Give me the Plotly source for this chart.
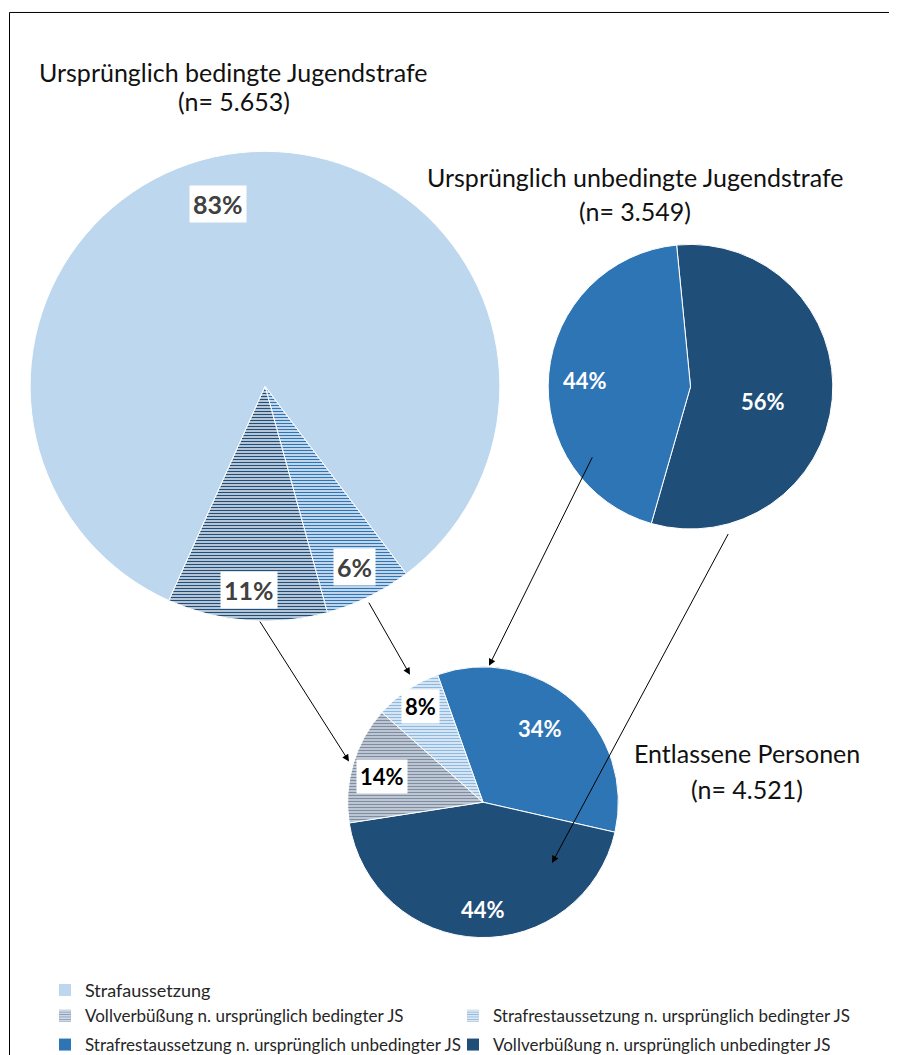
import math
import plotly.graph_objects as go

W, H = 897, 1055
OFF = 8  # page body margin, so pixel positions below are screen positions

# ---- data ----
big_labels = ['Strafrestaussetzung n. ursprünglich bedingter JS',
              'Vollverbüßung n. ursprünglich bedingter JS',
              'Strafaussetzung']
big_values = [6, 11, 83]

small_labels = ['Vollverbüßung n. ursprünglich unbedingter JS',
                'Strafrestaussetzung n. ursprünglich unbedingter JS']
small_values = [56, 44]

out_labels = ['Strafrestaussetzung n. ursprünglich unbedingter JS',
              'Vollverbüßung n. ursprünglich unbedingter JS',
              'Vollverbüßung n. ursprünglich bedingter JS',
              'Strafrestaussetzung n. ursprünglich bedingter JS']
out_values = [34, 44, 14, 8]

title_big = ['Ursprünglich bedingte Jugendstrafe', '(n= 5.653)']
title_small = ['Ursprünglich unbedingte Jugendstrafe', '(n= 3.549)']
title_out = ['Entlassene Personen', '(n= 4.521)']

legend_rows = [
    ['Strafaussetzung'],
    ['Vollverbüßung n. ursprünglich bedingter JS',
     'Strafrestaussetzung n. ursprünglich bedingter JS'],
    ['Strafrestaussetzung n. ursprünglich unbedingter JS',
     'Vollverbüßung n. ursprünglich unbedingter JS'],
]

# ---- styles ----
FONT = 'Lato'
LIGHT = '#BDD7EE'
MID = '#2E75B6'
DARK = '#1F4E79'

# (fill colour, pattern shape, pattern fg, pattern bg) per category
style = {
    'Strafaussetzung': (LIGHT, '', LIGHT, LIGHT),
    'Vollverbüßung n. ursprünglich bedingter JS': ('#8FA5BF', '-', DARK, '#E6ECF3'),
    'Strafrestaussetzung n. ursprünglich bedingter JS': ('#8DB6DE', '-', MID, '#F2F6FB'),
    'Strafrestaussetzung n. ursprünglich unbedingter JS': (MID, '', MID, MID),
    'Vollverbüßung n. ursprünglich unbedingter JS': (DARK, '', DARK, DARK),
}
# lighter stripes in the pie of released persons
style_out = dict(style)
style_out['Vollverbüßung n. ursprünglich bedingter JS'] = ('#A9B4C3', '-', '#7D8DA3', '#D3D9E1')
style_out['Strafrestaussetzung n. ursprünglich bedingter JS'] = ('#B7D3EC', '-', '#8DB8E0', '#EEF4FA')

pies = [
    dict(labels=big_labels, values=big_values, cx=265, cy=388, r=236, rot=143,
         st=style, frac=[0.86, 0.87, 0.80], shift=[0, 0, -8],
         font=[25, 25, 25], color=['#404040'] * 3, box=[True] * 3),
    dict(labels=small_labels, values=small_values, cx=690.5, cy=388.5, r=143, rot=-5.6,
         st=style, frac=[0.52, 0.74], shift=[6, -2],
         font=[22, 22], color=['white'] * 2, box=[False] * 2),
    dict(labels=out_labels, values=out_values, cx=483, cy=806, r=136, rot=-19.6,
         st=style_out, frac=[0.69, 0.79, 0.77, 0.84], shift=[-4, -2, -2, 1],
         font=[22] * 4, color=['white', 'white', 'black', 'black'],
         box=[False, False, True, True]),
]


def px(x):
    return (x - OFF) / W


def py(y):
    return 1 - (y - OFF) / H


fig = go.Figure()
annotations = []

for p in pies:
    cx, cy, r = p['cx'], p['cy'], p['r']
    st = [p['st'][lab] for lab in p['labels']]
    fig.add_trace(go.Pie(
        labels=p['labels'], values=p['values'], sort=False, direction='clockwise',
        rotation=p['rot'], textinfo='none', showlegend=False,
        hovertemplate='%{label}<br>%{percent}<extra></extra>',
        domain=dict(x=[px(cx - r), px(cx + r)], y=[py(cy + r), py(cy - r)]),
        marker=dict(colors=[s[0] for s in st],
                    line=dict(color='white', width=1),
                    pattern=dict(shape=[s[1] for s in st], fgcolor=[s[2] for s in st],
                                 bgcolor=[s[3] for s in st], size=3, solidity=0.5)),
    ))
    # percentage labels, placed from slice geometry
    tot = sum(p['values'])
    acc = 0
    for i, v in enumerate(p['values']):
        mid = p['rot'] + 360 * (acc + v / 2) / tot + p['shift'][i]
        acc += v
        a = math.radians(mid)
        x = cx + p['frac'][i] * r * math.sin(a)
        y = cy - p['frac'][i] * r * math.cos(a)
        annotations.append(dict(
            x=x, y=y, xref='x', yref='y', text=f'<b>{round(100 * v / tot)}%</b>',
            showarrow=False, font=dict(family=FONT, size=p['font'][i], color=p['color'][i]),
            bgcolor='white' if p['box'][i] else None, borderpad=3))

# titles
for lines, x, ys in [(title_big, 233.5, [72, 101]),
                     (title_small, 635, [178, 212]),
                     (title_out, 747, [757, 793])]:
    for txt, y in zip(lines, ys):
        annotations.append(dict(x=x, y=y, xref='x', yref='y', text=txt, showarrow=False,
                                font=dict(family=FONT, size=25, color='#111111')))

# arrows (tail -> head)
arrows = [((259, 623), (349, 765)),
          ((368, 604), (410, 678)),
          ((593, 458), (489, 669)),
          ((729, 535), (552, 867))]
for (x0, y0), (x1, y1) in arrows:
    annotations.append(dict(x=x1, y=y1, ax=x0, ay=y0, xref='x', yref='y', axref='x', ayref='y',
                            text='', showarrow=True, arrowhead=2, arrowsize=1.4,
                            arrowwidth=1, arrowcolor='black'))

# legend entries (dummy bars carry the swatches)
legend_names = ['legend', 'legend2', 'legend3']
for row, lg in zip(legend_rows, legend_names):
    for name in row:
        s = style[name]
        fig.add_trace(go.Bar(
            x=[None], y=[None], name=name, legend=lg, showlegend=True,
            marker=dict(color=s[0] if s[1] == '' else s[3], line=dict(width=0),
                        pattern=dict(shape=s[1], fgcolor=s[2], bgcolor=s[3], size=3, solidity=0.5)),
        ))

leg_common = dict(orientation='h', xanchor='left', yanchor='middle', bgcolor='rgba(0,0,0,0)',
                  entrywidth=363, entrywidthmode='pixels', itemclick=False, itemdoubleclick=False)

fig.update_layout(
    width=W, height=H,
    margin=dict(l=0, r=0, t=0, b=0),
    paper_bgcolor='white', plot_bgcolor='white',
    xaxis=dict(range=[OFF, W + OFF], visible=False, fixedrange=True),
    yaxis=dict(range=[H + OFF, OFF], visible=False, fixedrange=True),
    annotations=annotations,
    shapes=[dict(type='rect', xref='x', yref='y', x0=9.5, y0=12.5, x1=895.5, y1=1075,
                 line=dict(color='black', width=1), fillcolor='rgba(0,0,0,0)')],
    legend=dict(x=px(45), y=py(995), font=dict(family=FONT, size=18, color='#262626'), **leg_common),
    legend2=dict(x=px(45), y=py(1021), font=dict(family=FONT, size=17, color='#262626'), **leg_common),
    legend3=dict(x=px(45), y=py(1050), font=dict(family=FONT, size=17, color='#262626'), **leg_common),
    font=dict(family=FONT),
)

fig.write_html('out.html', config={'displayModeBar': False})
